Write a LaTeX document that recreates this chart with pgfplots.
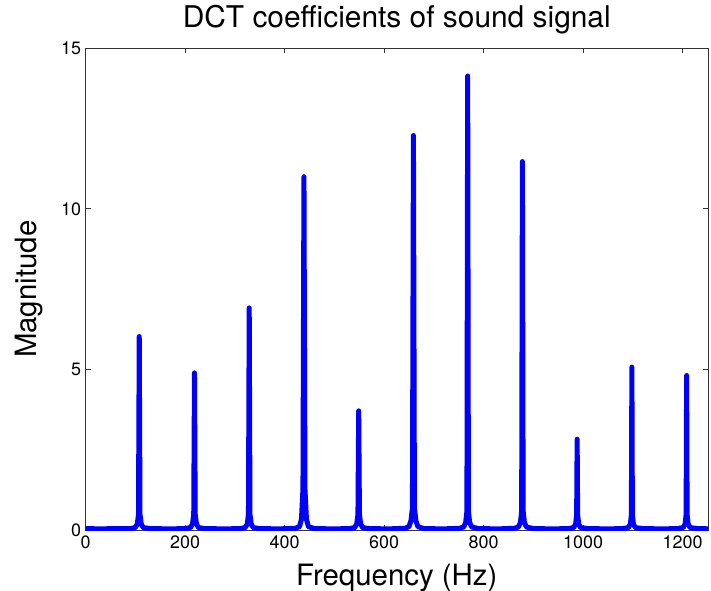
\documentclass[border=0pt]{standalone}
\usepackage{fontspec}
\setmainfont{TeX Gyre Heros}
\usepackage{pgfplots}
\pgfplotsset{compat=1.18}
\begin{document}
\begin{tikzpicture}[x=1bp,y=1bp]
\path[use as bounding box] (0,0) rectangle (711,591);
\begin{axis}[
  at={(85.5bp,60.5bp)}, anchor=south west,
  scale only axis, width=622.5bp, height=482.5bp,
  xmin=0, xmax=1251, ymin=0, ymax=15,
  xtick={0,200,...,1200}, ytick={0,5,10,15},
  tick align=inside, major tick length=5bp,
  axis line style={black!80, line width=0.8bp},
  tick style={black!80, line width=0.8bp},
  /pgf/number format/assume math mode=true,
  /pgf/number format/1000 sep={},
  ticklabel style={font=\fontsize{18}{21}\selectfont},
  xticklabel style={yshift=-2bp},
  yticklabel style={xshift=-1bp},
  title={DCT coefficients of sound signal},
  title style={font=\fontsize{30}{34}\selectfont, at={(axis description cs:0.5,1.031)}, anchor=base},
  xlabel={Frequency (Hz)},
  xlabel style={font=\fontsize{29.5}{33}\selectfont, at={(axis description cs:0.5,-0.114)}, anchor=base},
  ylabel={Magnitude},
  ylabel style={font=\fontsize{29.5}{33}\selectfont, at={(axis description cs:-0.078,0.5)}, anchor=base},
]
\addplot[color={rgb,1:red,0;green,0;blue,1}, line width=5bp, line join=round, line cap=round] coordinates {
(0,0.06) (30,0.05) (60,0.06) (90,0.06) (100,0.09) (104,0.2) (106.5,0.5) (108,6.03) (109.5,0.5) (112,0.2) (116,0.09) (130,0.06)
(170,0.05) (200,0.06) (211,0.09) (215,0.2) (217.5,0.5) (219,4.90) (220.5,0.5) (223,0.2) (227,0.09) (240,0.06)
(280,0.05) (310,0.06) (321,0.09) (325,0.2) (327.5,0.5) (329,6.92) (330.5,0.5) (333,0.2) (337,0.09) (350,0.06)
(390,0.05) (422,0.07) (430,0.12) (434,0.35) (437,1.3) (439,11.0) (441,1.3) (444,0.35) (448,0.12) (460,0.06)
(500,0.05) (530,0.06) (541,0.09) (545,0.2) (547.5,0.5) (549,3.72) (550.5,0.5) (553,0.2) (557,0.09) (570,0.06)
(610,0.05) (642,0.07) (650,0.12) (654,0.3) (657,0.7) (659,12.28) (661,0.7) (664,0.3) (668,0.12) (680,0.06)
(720,0.05) (752,0.07) (760,0.11) (764,0.25) (766.5,0.6) (768,14.13) (769.5,0.6) (772,0.25) (776,0.11) (790,0.06)
(830,0.05) (862,0.07) (870,0.11) (874,0.25) (876.5,0.6) (878,11.47) (879.5,0.6) (882,0.25) (886,0.11) (900,0.06)
(940,0.05) (970,0.06) (981,0.09) (985,0.2) (987,0.5) (988,2.84) (989,0.5) (991,0.2) (995,0.09) (1010,0.06)
(1050,0.05) (1080,0.06) (1091,0.09) (1095,0.2) (1097,0.5) (1098,5.08) (1099,0.5) (1101,0.2) (1105,0.09) (1120,0.06)
(1160,0.05) (1190,0.06) (1201,0.09) (1205,0.2) (1207,0.5) (1208,4.82) (1209,0.5) (1211,0.2) (1215,0.09) (1230,0.06)
(1260,0.05)
};
\end{axis}
\end{tikzpicture}
\end{document}
